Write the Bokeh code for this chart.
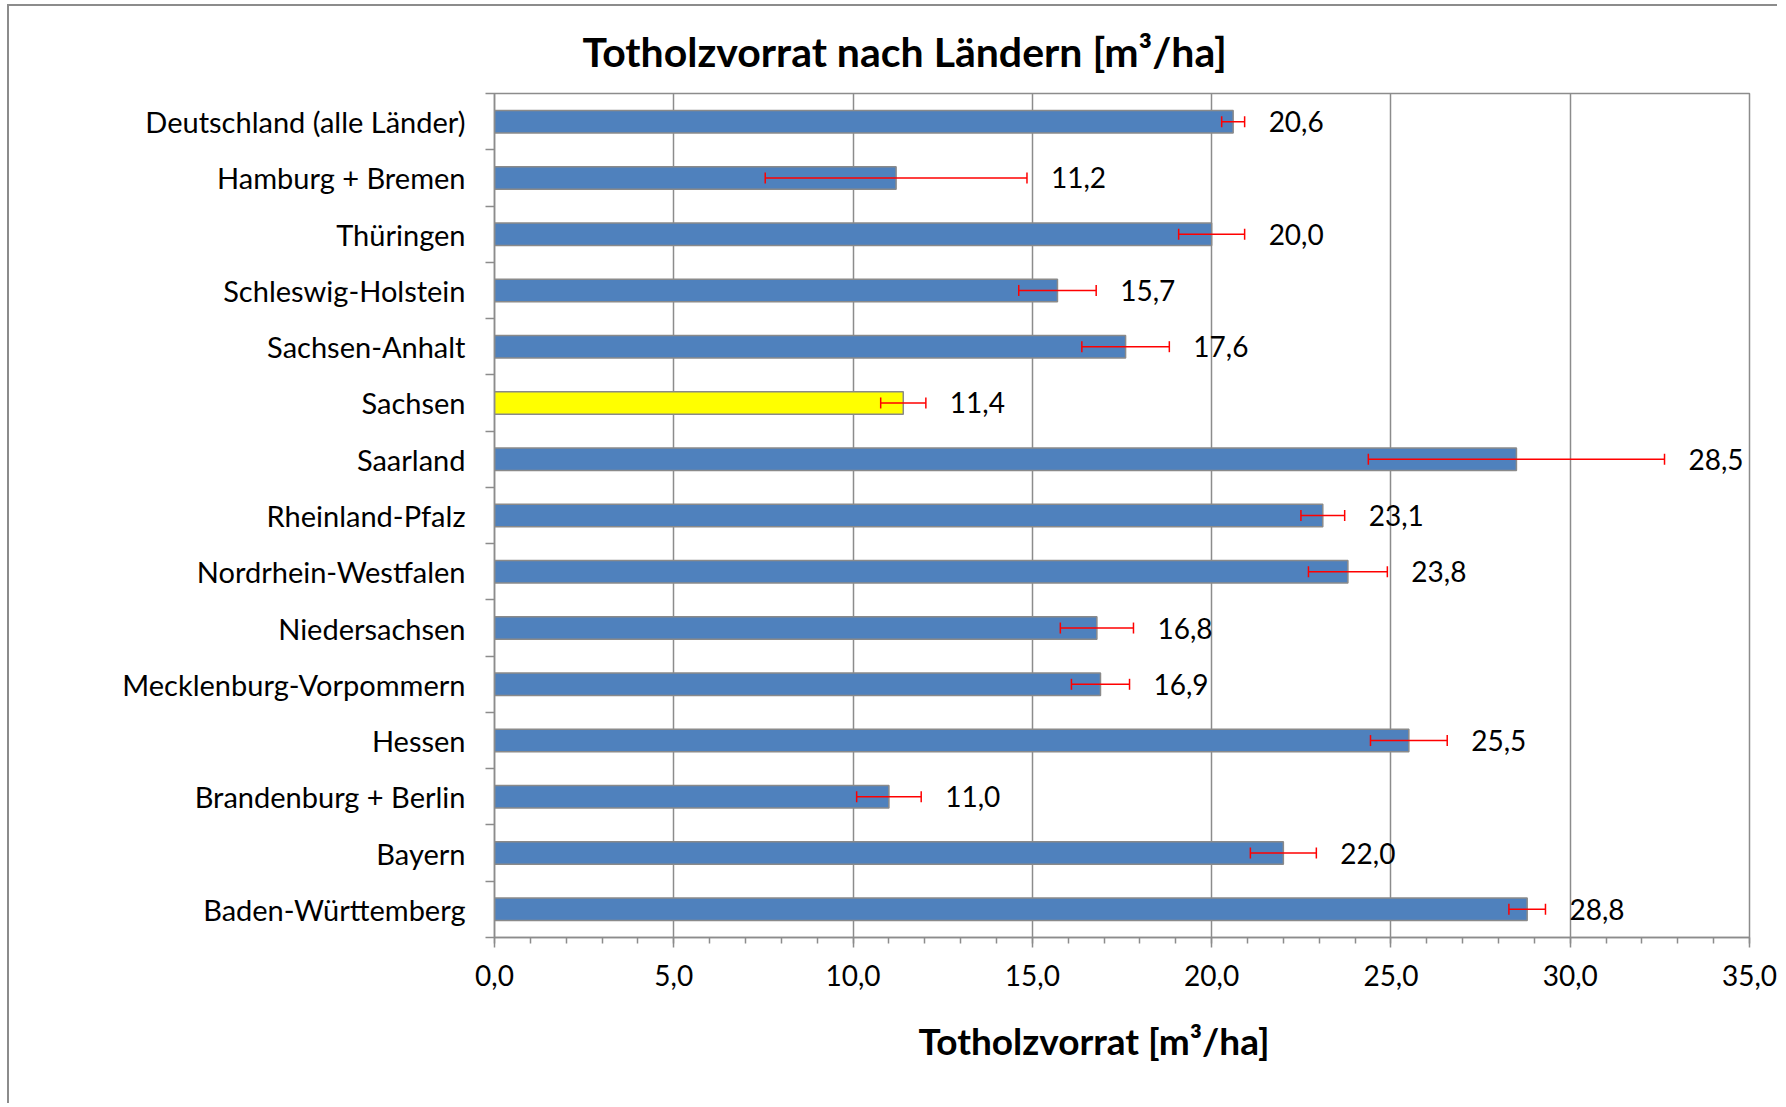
from bokeh.plotting import figure
from bokeh.models import ColumnDataSource, FixedTicker, Whisker, TeeHead, Title, Range1d
from bokeh.embed import file_html
from bokeh.resources import INLINE
from bokeh.core.properties import value

# ---- data (top to bottom as shown) ----
laender = ["Deutschland (alle Länder)", "Hamburg + Bremen", "Thüringen", "Schleswig-Holstein",
           "Sachsen-Anhalt", "Sachsen", "Saarland", "Rheinland-Pfalz", "Nordrhein-Westfalen",
           "Niedersachsen", "Mecklenburg-Vorpommern", "Hessen", "Brandenburg + Berlin",
           "Bayern", "Baden-Württemberg"]
vorrat = [20.6, 11.2, 20.0, 15.7, 17.6, 11.4, 28.5, 23.1, 23.8, 16.8, 16.9, 25.5, 11.0, 22.0, 28.8]
fehler = [0.32, 3.65, 0.92, 1.08, 1.22, 0.63, 4.13, 0.61, 1.10, 1.02, 0.81, 1.07, 0.90, 0.92, 0.51]
x_ticks = [0, 5, 10, 15, 20, 25, 30, 35]
x_tick_labels = ["0,0", "5,0", "10,0", "15,0", "20,0", "25,0", "30,0", "35,0"]
hervorgehoben = "Sachsen"

titel = "Totholzvorrat nach Ländern [m³/ha]"
x_titel = "Totholzvorrat [m³/ha]"

FONT = "Lato"
BLUE = "#4F81BD"
YELLOW = "#FFFF00"
GRID = "#8C8C8C"

n = len(laender)
ys = [n - i - 0.5 for i in range(n)]
src = ColumnDataSource(dict(
    y=ys,
    v=vorrat,
    lo=[v - e for v, e in zip(vorrat, fehler)],
    hi=[v + e for v, e in zip(vorrat, fehler)],
    lbl=[f"{v:.1f}".replace(".", ",") for v in vorrat],
    color=[YELLOW if c == hervorgehoben else BLUE for c in laender],
))

p = figure(width=1770, height=1099,
           x_range=Range1d(0, 35), y_range=Range1d(0, n),
           output_backend="svg", toolbar_location=None,
           min_border_left=485, min_border_right=30, min_border_top=87, min_border_bottom=168,
           styles={"margin-left": "7px", "margin-top": "4px",
                   "border-left": "2px solid #8C8C8C", "border-top": "2px solid #8C8C8C"})
p.background_fill_color = "white"
p.border_fill_color = "white"
p.outline_line_color = GRID
p.outline_line_width = 1.5

# bars
p.hbar(y="y", height=0.4, left=0, right="v", source=src,
       fill_color="color", line_color="#8A8A8A", line_width=1.5)

# error bars
head = dict(size=11, line_color="#FF0000", line_width=1.5)
p.add_layout(Whisker(source=src, base="y", lower="lo", upper="hi", dimension="width",
                     line_color="#FF0000", line_width=1.5, level="annotation",
                     lower_head=TeeHead(**head), upper_head=TeeHead(**head)))

# value labels
p.text(x="hi", y="y", text="lbl", source=src, x_offset=24,
       text_align="left", text_baseline="middle",
       text_font=value(FONT), text_font_size="28px", text_color="black")

# x axis
xa = p.xaxis[0]
xa.ticker = FixedTicker(ticks=x_ticks, minor_ticks=list(range(0, 36)))
xa.major_label_overrides = dict(zip(x_ticks, x_tick_labels))
xa.axis_line_color = GRID
xa.axis_line_width = 1.5
xa.major_tick_line_color = GRID
xa.major_tick_line_width = 1.5
xa.major_tick_in = 0
xa.major_tick_out = 10
xa.minor_tick_line_color = GRID
xa.minor_tick_line_width = 1.5
xa.minor_tick_in = 0
xa.minor_tick_out = 6
xa.major_label_standoff = 17
xa.major_label_text_font = FONT
xa.major_label_text_font_size = "28px"
xa.major_label_text_color = "black"

# y axis
ya = p.yaxis[0]
ya.ticker = FixedTicker(ticks=ys, minor_ticks=list(range(0, n + 1)))
ya.major_label_overrides = dict(zip(ys, laender))
ya.axis_line_color = GRID
ya.axis_line_width = 1.5
ya.major_tick_line_color = None
ya.major_tick_in = 0
ya.major_tick_out = 0
ya.minor_tick_line_color = GRID
ya.minor_tick_line_width = 1.5
ya.minor_tick_in = 0
ya.minor_tick_out = 9
ya.major_label_standoff = 20
ya.major_label_text_font = FONT
ya.major_label_text_font_size = "29px"
ya.major_label_text_color = "black"

p.xgrid.grid_line_color = GRID
p.xgrid.grid_line_width = 1.5
p.ygrid.grid_line_color = None

# titles
p.add_layout(Title(text=titel, align="left", offset=88, standoff=34,
                   vertical_align="middle",
                   text_font=FONT, text_font_style="bold", text_font_size="41px",
                   text_color="black"), "above")
p.add_layout(Title(text=x_titel, align="left", offset=424, standoff=58,
                   vertical_align="top",
                   text_font=FONT, text_font_style="bold", text_font_size="37px",
                   text_color="black"), "below")

open("out.html", "w").write(file_html(p, INLINE))
